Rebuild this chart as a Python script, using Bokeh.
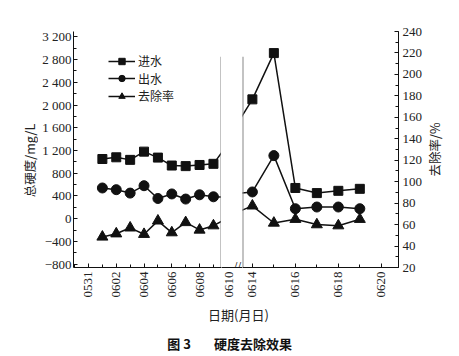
from datetime import date
from math import pi

from bokeh.plotting import figure
from bokeh.models import (Range1d, LinearAxis, SingleIntervalTicker, FixedTicker,
                          Label, Legend, LegendItem, ColumnDataSource)
from bokeh.layouts import row, column
from bokeh.embed import file_html
from bokeh.resources import INLINE

# ---------------- data ----------------
dates = ["0601", "0602", "0603", "0604", "0605", "0606", "0607", "0608", "0609",
         "0610", "0613", "0614", "0615", "0616", "0617", "0618", "0619"]
inflow = [1050, 1080, 1035, 1180, 1075, 935, 925, 945, 965,
          1300, 1490, 2100, 2915, 540, 450, 490, 525]          # 进水, mg/L
outflow = [540, 510, 450, 580, 355, 435, 345, 420, 385,
           380, 430, 470, 1110, 175, 205, 205, 175]             # 出水, mg/L
removal = [48.5, 51.5, 57, 51, 63.5, 52.5, 62, 55, 59,
           66, 69, 77.5, 61.5, 65, 60, 59, 65]                  # 去除率, %

series_names = ["进水", "出水", "去除率"]
x_tick_labels = ["0531", "0602", "0604", "0606", "0608", "0610",
                 "0614", "0616", "0618", "0620"]
y_left_ticks = [-800, -400, 0, 400, 800, 1200, 1600, 2000, 2400, 2800, 3200]
y_left_labels = ["\u2212800", "\u2212400", "0", "400", "800", "1 200", "1 600",
                 "2 000", "2 400", "2 800", "3 200"]
y_right_ticks = [20, 40, 60, 80, 100, 120, 140, 160, 180, 200, 220, 240]
y_right_labels = ["20", "40", "60", "80", "100", "120", "140", "160", "180",
                  "200", "220", "240"]
y_left_title = "总硬度/mg/L"
y_right_title = "去除率/%"
x_title = "日期(月日)"
caption_num = "图 3"
caption_text = "硬度去除效果"

# ---------------- helpers ----------------
BASE = date(2000, 5, 31)


def day_of(mmdd):
    return (date(2000, int(mmdd[:2]), int(mmdd[2:])) - BASE).days


days = [day_of(d) for d in dates]
tick_days = [day_of(t) for t in x_tick_labels]

FONT_NUM = "Liberation Serif"
FONT_CJK = "Noto Sans CJK SC"
INK = "#111111"
TXT = "#222222"

LEFT_Y = (-860, 3295)
PCT_Y = (20, 240)
X1 = (-1.08, 9.58)     # left panel (0531 .. 0609)
XG = (9.43, 10.94)     # gap strip (only carries the 0610 label and the break mark)
X2 = (13.54, 20.8)     # right panel (0614 .. 0620)
BREAK_TOP = 2850

H = 300
MB_TOP, MB_BOT = 31, 32

src = ColumnDataSource(dict(day=days, inflow=inflow, outflow=outflow, removal=removal))


def style_axis(ax):
    ax.axis_line_color = INK
    ax.axis_line_width = 1
    ax.major_tick_line_color = INK
    ax.minor_tick_line_color = INK
    ax.major_tick_in = 4
    ax.major_tick_out = 0
    ax.minor_tick_in = 3
    ax.minor_tick_out = 0
    ax.major_label_text_font = FONT_NUM
    ax.major_label_text_font_size = "13px"
    ax.major_label_text_color = TXT


def make_fig(width, xr, mbl, mbr):
    p = figure(width=width, height=H, x_range=Range1d(*xr), y_range=Range1d(*LEFT_Y),
               output_backend="svg", toolbar_location=None, y_axis_location=None,
               min_border_left=mbl, min_border_right=mbr,
               min_border_top=MB_TOP, min_border_bottom=MB_BOT)
    p.extra_y_ranges = {"pct": Range1d(*PCT_Y)}
    p.outline_line_color = None
    p.xgrid.visible = False
    p.ygrid.visible = False
    xa = p.xaxis[0]
    style_axis(xa)
    xa.major_label_orientation = pi / 2
    xa.major_label_standoff = 4
    return p


def text_strip(width, height):
    s = figure(width=width, height=height, x_range=Range1d(0, width), y_range=Range1d(0, height),
               output_backend="svg", toolbar_location=None,
               x_axis_location=None, y_axis_location=None,
               min_border_left=0, min_border_right=0, min_border_top=0, min_border_bottom=0)
    s.outline_line_color = None
    s.xgrid.visible = False
    s.ygrid.visible = False
    return s


def set_x_ticks(p, lo, hi):
    majors = [d for d in tick_days if lo <= d <= hi]
    minors = [d for d in range(int(lo), int(hi) + 1) if lo <= d <= hi and d not in majors]
    xa = p.xaxis[0]
    xa.ticker = FixedTicker(ticks=majors, minor_ticks=minors)
    xa.major_label_overrides = {d: t for d, t in zip(tick_days, x_tick_labels) if d in majors}


def draw_series(p):
    out = []
    specs = [("inflow", "square", 9, "default"),
             ("outflow", "circle", 10, "default"),
             ("removal", "triangle", 11, "pct")]
    for field, marker, size, yname in specs:
        ln = p.line("day", field, source=src, line_color=INK, line_width=1.5,
                    y_range_name=yname)
        sc = p.scatter("day", field, source=src, marker=marker, size=size,
                       fill_color=INK, line_color=INK, y_range_name=yname)
        out.append((ln, sc))
    return out


# ---------------- left title strip ----------------
tl = text_strip(38, H)
tl.add_layout(Label(x=28.8, y=H - 164, text=y_left_title, angle=pi / 2,
                    text_align="center", text_baseline="middle", text_font=FONT_CJK,
                    text_font_size="12.5px", text_color=TXT))

# ---------------- left panel ----------------
p1 = make_fig(183, X1, 35, 0)
set_x_ticks(p1, *X1)
ya = LinearAxis(ticker=SingleIntervalTicker(interval=400, num_minor_ticks=2))
style_axis(ya)
ya.major_label_standoff = 2
ya.major_label_overrides = dict(zip(y_left_ticks, y_left_labels))
p1.add_layout(ya, "left")
r1 = draw_series(p1)
p1.segment(x0=X1[1], y0=LEFT_Y[0], x1=X1[1], y1=BREAK_TOP, line_color="#888888", line_width=2)

# one legend per row so the row pitch can be set exactly
row_centres = [61.5, 79, 96.5]           # page y of each legend row
for name, (ln, sc), yc in zip(series_names, r1, row_centres):
    lg = Legend(items=[LegendItem(label=name, renderers=[ln, sc])],
                location=(35, 268 - (yc + 8.7)), border_line_color=None,
                background_fill_alpha=0, padding=0, margin=0, spacing=0,
                glyph_width=27, glyph_height=16, label_height=16, label_standoff=3,
                label_text_font=FONT_CJK, label_text_font_size="12px",
                label_text_color=TXT)
    p1.add_layout(lg)

# ---------------- gap strip ----------------
pg = make_fig(21, XG, 0, 0)
set_x_ticks(pg, *XG)
pg.xaxis[0].major_tick_in = 0
pg.xaxis[0].minor_tick_in = 0
pg.add_layout(Label(x=10.57, y=LEFT_Y[0], text="//", text_align="center",
                    text_baseline="middle", text_font=FONT_NUM, text_font_size="14px",
                    text_color=INK))

# ---------------- right panel ----------------
p2 = make_fig(183, X2, 0, 26)
set_x_ticks(p2, *X2)
yr = LinearAxis(y_range_name="pct", ticker=SingleIntervalTicker(interval=20, num_minor_ticks=2))
style_axis(yr)
yr.major_label_standoff = 4
yr.major_label_overrides = dict(zip(y_right_ticks, y_right_labels))
p2.add_layout(yr, "right")
draw_series(p2)
p2.segment(x0=X2[0], y0=LEFT_Y[0], x1=X2[0], y1=BREAK_TOP, line_color="#888888", line_width=2)

# ---------------- right title strip ----------------
tr = text_strip(34, H)
tr.add_layout(Label(x=9.2, y=H - 150, text=y_right_title, angle=pi / 2,
                    text_align="center", text_baseline="middle", text_font=FONT_CJK,
                    text_font_size="12.5px", text_color=TXT))

# ---------------- bottom text strip ----------------
pb = text_strip(459, 56)
pb.add_layout(Label(x=238, y=42.5, text=x_title, text_align="center", text_baseline="middle",
                    text_font=FONT_CJK, text_font_size="13px", text_color=TXT))
pb.add_layout(Label(x=178.5, y=13.5, text=caption_num, text_align="center",
                    text_baseline="middle", text_font=FONT_CJK, text_font_size="13px",
                    text_font_style="bold", text_color=INK))
pb.add_layout(Label(x=252.5, y=13.5, text=caption_text, text_align="center",
                    text_baseline="middle", text_font=FONT_CJK, text_font_size="13px",
                    text_font_style="bold", text_color=INK))

layout = column(row(tl, p1, pg, p2, tr, spacing=0), pb, spacing=0)
open("out.html", "w").write(file_html(layout, INLINE))
